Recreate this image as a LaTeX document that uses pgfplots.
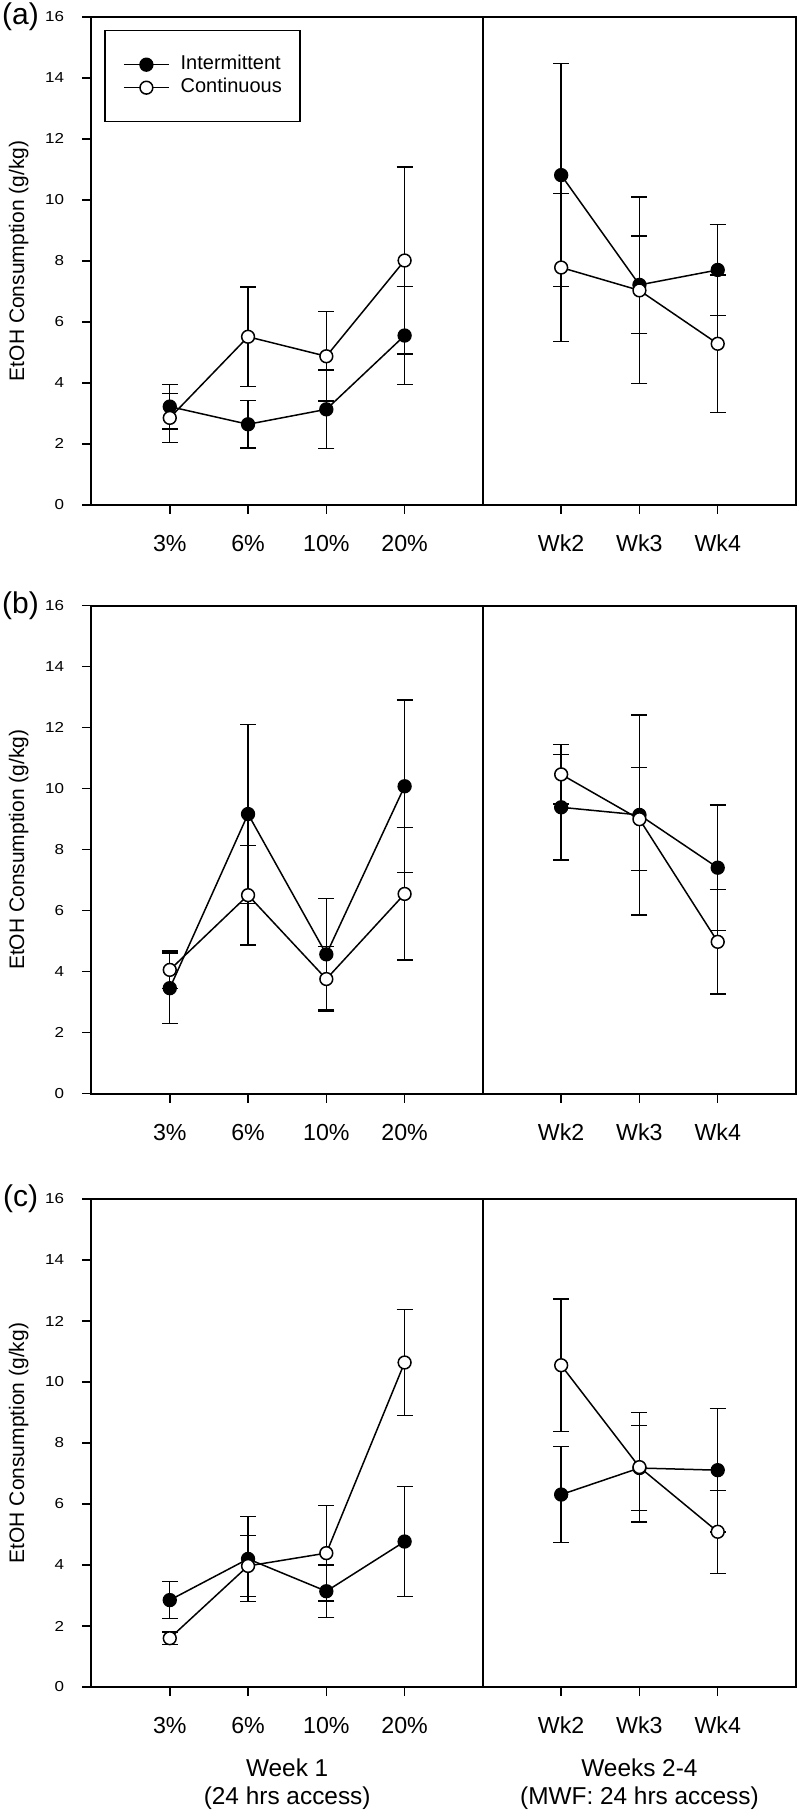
\documentclass[border=0pt]{standalone}
\usepackage{fontspec}
\setmainfont{Liberation Sans}
\usepackage{graphicx}
\usepackage{pgfplots}
\pgfplotsset{compat=1.18}

\pgfplotsset{
  panel/.style={
    scale only axis, width=352.25pt, height=244pt,
    xmin=-1, xmax=8, ymin=0, ymax=16,
    xtick={0,1,2,3,5,6,7},
    xticklabels={3\%,6\%,10\%,20\%,Wk2,Wk3,Wk4},
    ytick={0,2,...,16},
    tick pos=left, tick align=outside,
    major tick length=4.5pt,
    axis line style={line width=1pt},
    every tick/.style={black, line width=0.75pt},
    /pgf/number format/assume math mode=true,
    xticklabel style={font=\fontsize{11.6}{12}\selectfont, anchor=base, yshift=-18.75pt, inner sep=0pt},
    yticklabel style={font=\fontsize{8.5}{10}\selectfont, anchor=east, inner sep=0pt, xshift=-9pt},
    yticklabel={\scalebox{1}[0.85]{\pgfmathprintnumber{\tick}}},
    ylabel={EtOH Consumption (g/kg)},
    ylabel style={font=\fontsize{10.5}{12}\selectfont, at={(axis description cs:-0.1035,0.5)}, anchor=center},
    clip=false,
  },
  int/.style={black, line width=0.75pt, mark=*, mark size=3.2pt,
    mark options={fill=black, solid},
    /pgfplots/error bars/y dir=both, /pgfplots/error bars/y explicit,
    /pgfplots/error bars/error bar style={line width=0.7pt, black},
    /pgfplots/error bars/error mark options={rotate=90, mark size=4pt, line width=0.7pt, black}},
  cont/.style={black, line width=0.75pt, mark=*, mark size=3.2pt,
    mark options={fill=white, solid},
    /pgfplots/error bars/y dir=both, /pgfplots/error bars/y explicit,
    /pgfplots/error bars/error bar style={line width=0.7pt, black},
    /pgfplots/error bars/error mark options={rotate=90, mark size=4pt, line width=0.7pt, black}},
}

\begin{document}
\begin{tikzpicture}
\path[use as bounding box] (0,0) rectangle (400pt,-908pt);

% ---------------- Panel (a) ----------------
\begin{axis}[panel, at={(45.75pt,-8.4pt)}, anchor=north west,
  legend style={at={(axis description cs:0.0184,0.973)}, anchor=north west,
    draw=black, line width=0.7pt, font=\fontsize{10}{11}\selectfont,
    inner xsep=9pt, inner ysep=12.5pt, row sep=2.5pt, cells={anchor=west},
    nodes={inner sep=0pt, text height=7pt, text depth=2pt},
    /tikz/every odd column/.append style={column sep=5.5pt}},
  legend image code/.code={\draw[mark repeat=2, mark phase=2] plot coordinates {(0pt,0pt) (11.25pt,0pt) (22.5pt,0pt)};}
]
\addplot[int] coordinates {(0,3.22) +- (0,0.73) (1,2.64) +- (0,0.78) (2,3.13) +- (0,1.29) (3,5.55) +- (0,1.6)};
\addlegendentry{Intermittent}
\addplot[forget plot, int] coordinates {(5,10.81) +- (0,3.66) (6,7.21) +- (0,1.6) (7,7.70) +- (0,1.5)};
\addplot[cont] coordinates {(0,2.85) +- (0,0.8) (1,5.51) +- (0,1.63) (2,4.87) +- (0,1.46) (3,8.01) +- (0,3.07)};
\addlegendentry{Continuous}
\addplot[forget plot, cont] coordinates {(5,7.78) +- (0,2.43) (6,7.03) +- (0,3.06) (7,5.28) +- (0,2.25)};
\draw[line width=0.9pt] (axis cs:4,0) -- (axis cs:4,16);
\node[font=\fontsize{15}{18}\selectfont] at (axis description cs:-0.1007,1) {(a)};
\end{axis}

% ---------------- Panel (b) ----------------
\begin{axis}[panel, at={(45.75pt,-302.85pt)}, anchor=north west]
\addplot[int] coordinates {(0,3.46) +- (0,1.16) (1,9.17) +- (0,2.93) (2,4.57) +- (0,1.83) (3,10.08) +- (0,2.83)};
\addplot[int] coordinates {(5,9.39) +- (0,1.73) (6,9.14) +- (0,3.28) (7,7.41) +- (0,2.05)};
\addplot[cont] coordinates {(0,4.06) +- (0,0.62) (1,6.51) +- (0,1.63) (2,3.76) +- (0,1.06) (3,6.55) +- (0,2.17)};
\addplot[cont] coordinates {(5,10.47) +- (0,0.97) (6,9.0) +- (0,1.69) (7,4.98) +- (0,1.71)};
\draw[line width=0.9pt] (axis cs:4,0) -- (axis cs:4,16);
\node[font=\fontsize{15}{18}\selectfont] at (axis description cs:-0.1007,1) {(b)};
\end{axis}

% ---------------- Panel (c) ----------------
\begin{axis}[panel, at={(45.75pt,-599.5pt)}, anchor=north west]
\addplot[int] coordinates {(0,2.85) +- (0,0.6) (1,4.20) +- (0,1.4) (2,3.14) +- (0,0.86) (3,4.77) +- (0,1.8)};
\addplot[int] coordinates {(5,6.31) +- (0,1.57) (6,7.18) +- (0,1.4) (7,7.11) +- (0,2.03)};
\addplot[cont] coordinates {(0,1.60) +- (0,0.21) (1,3.97) +- (0,1.0) (2,4.39) +- (0,1.57) (3,10.64) +- (0,1.73)};
\addplot[cont] coordinates {(5,10.55) +- (0,2.17) (6,7.21) +- (0,1.8) (7,5.09) +- (0,1.36)};
\draw[line width=0.9pt] (axis cs:4,0) -- (axis cs:4,16);
\node[font=\fontsize{15}{18}\selectfont] at (axis description cs:-0.1007,1) {(c)};
\node[anchor=base, font=\fontsize{12.2}{13}\selectfont] at ([yshift=-44.85pt]axis cs:1.5,0) {Week 1};
\node[anchor=base, font=\fontsize{12.2}{13}\selectfont] at ([yshift=-58.5pt]axis cs:1.5,0) {(24 hrs access)};
\node[anchor=base, font=\fontsize{12.2}{13}\selectfont] at ([yshift=-44.85pt]axis cs:6,0) {Weeks 2-4};
\node[anchor=base, font=\fontsize{12.2}{13}\selectfont] at ([yshift=-58.5pt]axis cs:6,0) {(MWF: 24 hrs access)};
\end{axis}
\end{tikzpicture}
\end{document}
